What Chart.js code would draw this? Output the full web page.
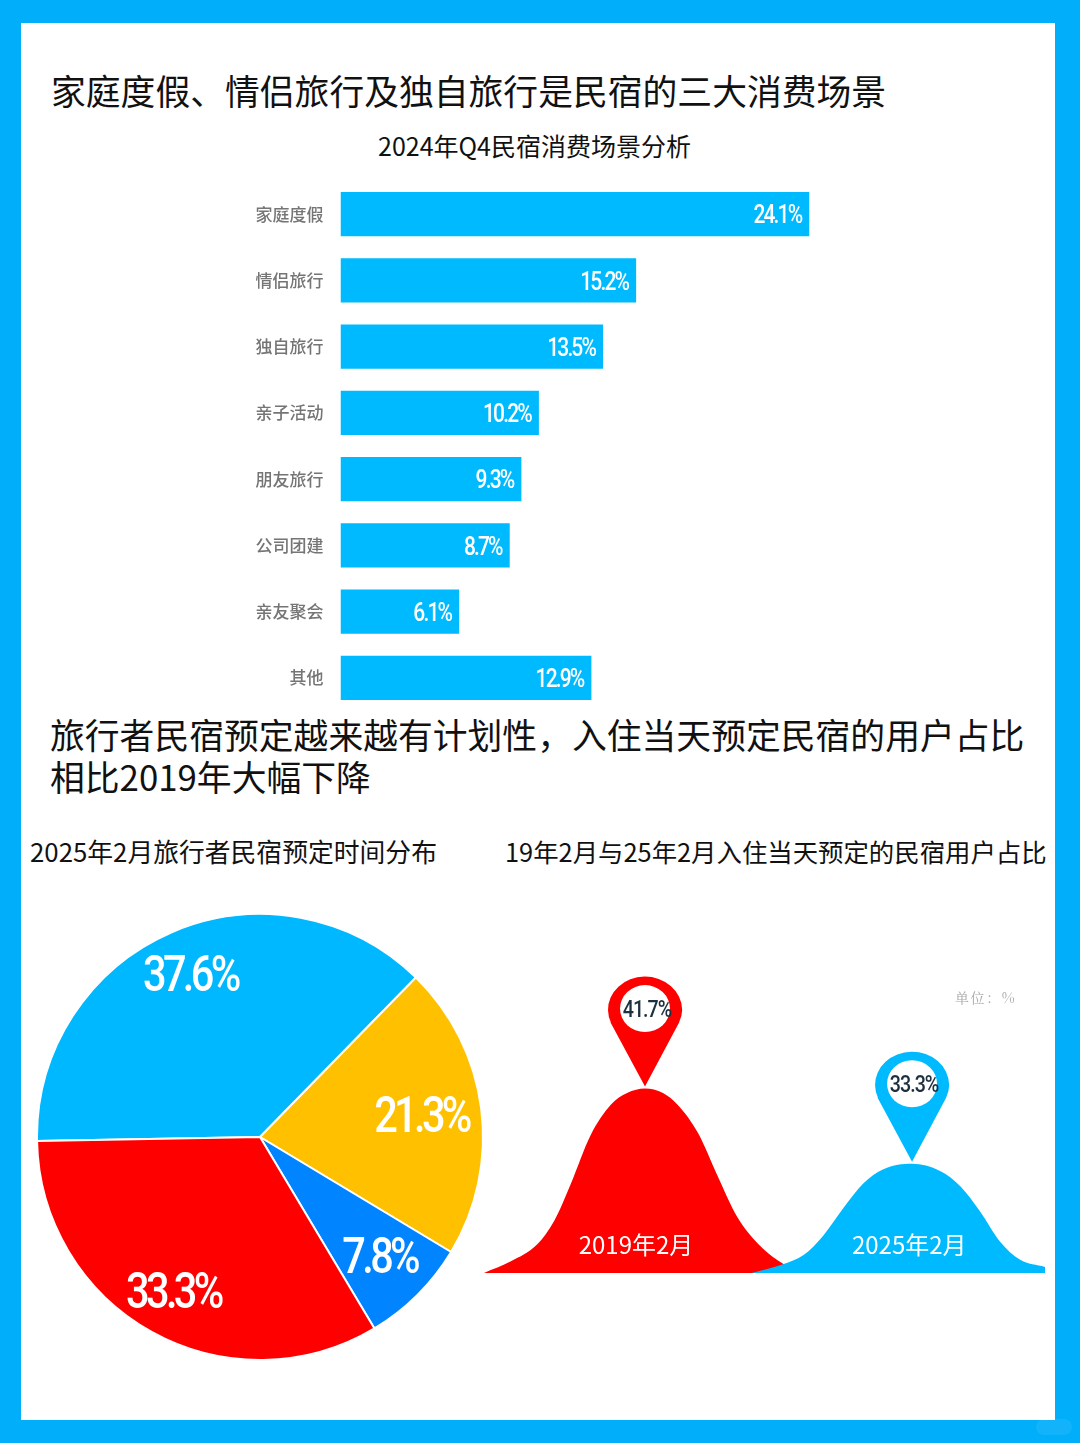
<!DOCTYPE html>
<html lang="zh-CN">
<head>
<meta charset="utf-8">
<title>民宿消费场景分析</title>
<script src="https://cdn.jsdelivr.net/npm/chart.js@4/dist/chart.umd.js"></script>
<style>
  html, body { margin: 0; padding: 0; background: #00aefa; }
  body { position: relative; width: 1080px; height: 1443px; overflow: hidden;
         font-family: "Noto Sans CJK SC", "Noto Sans", sans-serif; color: #111; }
  #panel { position: absolute; left: 21px; top: 23px; width: 1034px; height: 1397px; background: #fff; }
  .t { position: absolute; white-space: nowrap; }
  .h1 { font-size: 34.8px; line-height: 42px; height: 42px; font-weight: 400; }
  .h2 { font-size: 25.4px; line-height: 34px; height: 34px; font-weight: 400; }
  canvas { position: absolute; display: block; }
  #unit { left: 955px; top: 988px; font: 14px/18px "Noto Serif CJK SC", "DejaVu Serif", serif; color: #a8a8a8; letter-spacing: 1.6px; }
  #badge { position: absolute; left: 1036px; top: 1419px; width: 36px; height: 16px; border-radius: 8px; background: rgba(255,255,255,.07); }
</style>
</head>
<body>
<div id="panel"></div>
<div id="badge"></div>
<div class="t h1" style="left:51px;top:69px">家庭度假、情侣旅行及独自旅行是民宿的三大消费场景</div>
<div class="t h2" style="left:378px;top:128px;font-size:25px">2024年Q4民宿消费场景分析</div>
<div class="t h1" style="left:50px;top:713px">旅行者民宿预定越来越有计划性，入住当天预定民宿的用户占比</div>
<div class="t h1" style="left:50px;top:755px">相比2019年大幅下降</div>
<div class="t h2" style="left:30px;top:834px;font-size:25.8px">2025年2月旅行者民宿预定时间分布</div>
<div class="t h2" style="left:505px;top:834px">19年2月与25年2月入住当天预定的民宿用户占比</div>
<canvas id="barChart" width="684" height="530" style="left:240px;top:181px"></canvas>
<canvas id="pieChart" width="460" height="460" style="left:30px;top:907px"></canvas>
<canvas id="peakChart" width="561" height="313" style="left:484px;top:960px"></canvas>
<div class="t" id="unit">单位：%</div>

<script>
// Scenario shares, Q4 2024 (%)
const scenarioLabels = ['家庭度假', '情侣旅行', '独自旅行', '亲子活动', '朋友旅行', '公司团建', '亲友聚会', '其他'];
const scenarioValues = [24.1, 15.2, 13.5, 10.2, 9.3, 8.7, 6.1, 12.9];

// Booking lead-time shares, February 2025 (%)
const leadTimeValues = [37.6, 21.3, 7.8, 33.3];
const leadTimeColors = ['#00b8ff', '#ffc000', '#0084ff', '#ff0000'];

// Same-day booking share: each hump tops out at its stated value
const humpLabels = ['2019年2月', '2025年2月'];
const humpLabelX = [27.1, 75.8];
const humpPeaks = [41.7, 33.3];
const hump2019X = [0, 4.8, 9.5, 12.5, 15.5, 19, 22.6, 25.5, 28.7, 31.9, 34.5, 38.1, 41.6, 45.2, 48.8, 52.4, 56.6];
const hump2019Y = [21.1, 22.4, 24.3, 26.9, 31.1, 36.5, 39.9, 41.2, 41.7, 41.2, 39.9, 36.8, 32, 27.3, 24.4, 22.5, 21.1];
const hump2025X = [47.7, 53.3, 56.9, 60.5, 64, 67.6, 71.2, 76.3, 81.3, 84.9, 88.4, 92, 95.5, 100];
const hump2025Y = [21.1, 22.07, 23.07, 25.3, 28.3, 31.1, 32.7, 33.3, 32.5, 30.8, 28, 24.6, 22.6, 21.77];

Chart.defaults.animation = false;
Chart.defaults.responsive = false;
Chart.defaults.plugins.legend.display = false;
Chart.defaults.plugins.tooltip.enabled = false;

const pct = v => v.toFixed(1) + '%';

// Draws condensed figures: horizontally squeezed glyphs with tight tracking
function drawCondensed(ctx, text, x, y, squeeze, align) {
  ctx.save();
  ctx.translate(x, y);
  ctx.scale(squeeze, 1);
  ctx.textAlign = align;
  ctx.textBaseline = 'middle';
  ctx.fillText(text, 0, 0);
  ctx.restore();
}

// White value labels inside each bar, flush with its right end
const barLabels = {
  id: 'barLabels',
  afterDatasetsDraw(chart) {
    const { ctx } = chart;
    ctx.save();
    ctx.font = '500 25px Roboto';
    ctx.letterSpacing = '-2.2px';
    ctx.fillStyle = '#fff';
    chart.getDatasetMeta(0).data.forEach((bar, i) => {
      drawCondensed(ctx, pct(scenarioValues[i]), bar.x - 8, bar.y + 3, 0.84, 'right');
    });
    ctx.restore();
  }
};

new Chart(document.getElementById('barChart'), {
  type: 'bar',
  data: { labels: scenarioLabels, datasets: [{ data: scenarioValues, backgroundColor: '#00baff',
    categoryPercentage: 1, barPercentage: 0.665 }] },
  options: {
    indexAxis: 'y',
    layout: { padding: 0 },
    scales: {
      x: { display: false, min: 0, max: 30 },
      y: {
        afterFit(scale) { scale.width = 100.5; scale.paddingTop = 0; scale.paddingBottom = 0; },
        border: { display: false },
        grid: { display: false, drawTicks: false },
        ticks: { color: '#757575', padding: 17, font: { size: 17, family: '"Noto Sans CJK SC"', weight: '500' } }
      }
    }
  },
  plugins: [barLabels]
});

// Large percentage labels placed along each slice's mid-angle
const sliceReach = [0.79, 0.73, 0.76, 0.8];
const sliceLabels = {
  id: 'sliceLabels',
  afterDatasetsDraw(chart) {
    const { ctx } = chart;
    ctx.save();
    ctx.font = '500 50px Roboto';
    ctx.letterSpacing = '-4.4px';
    ctx.fillStyle = '#fff';
    chart.getDatasetMeta(0).data.forEach((arc, i) => {
      const mid = (arc.startAngle + arc.endAngle) / 2;
      const r = arc.outerRadius * sliceReach[i];
      drawCondensed(ctx, pct(leadTimeValues[i]), arc.x + Math.cos(mid) * r, arc.y + Math.sin(mid) * r + 3, 0.83, 'center');
    });
    ctx.restore();
  }
};

new Chart(document.getElementById('pieChart'), {
  type: 'pie',
  data: { datasets: [{ data: leadTimeValues, backgroundColor: leadTimeColors, borderColor: '#fff', borderWidth: 2 }] },
  options: { rotation: -91, radius: 223, layout: { padding: 0 } },
  plugins: [sliceLabels]
});

// Map-pin callout whose tip rests on each hump's peak, plus the period label
const peakPins = {
  id: 'peakPins',
  afterDatasetsDraw(chart) {
    const { ctx, scales: { x: xScale, y: yScale } } = chart;
    const pin = (top, colour, value, label, labelX) => {
      const tipX = top.x, tipY = top.y - 2;
      const cy = tipY - 77, rx = 37, ry = 33;
      ctx.fillStyle = colour;
      ctx.beginPath();
      ctx.moveTo(tipX, tipY);
      ctx.lineTo(tipX - rx + 2, cy + 12);
      ctx.ellipse(tipX, cy, rx, ry, 0, Math.PI * 0.87, Math.PI * 0.13 + Math.PI * 2);
      ctx.closePath();
      ctx.fill();
      ctx.fillStyle = '#fff';
      ctx.beginPath();
      ctx.ellipse(tipX, cy - 1, 25, 23.5, 0, 0, Math.PI * 2);
      ctx.fill();
      ctx.font = '500 24px Roboto';
      ctx.letterSpacing = '-1.2px';
      ctx.fillStyle = '#1e3040';
      drawCondensed(ctx, pct(value), tipX + 2, cy + 1, 0.82, 'center');
      ctx.letterSpacing = '0px';
      ctx.font = '24px "Noto Sans CJK SC"';
      ctx.fillStyle = '#fff';
      ctx.textAlign = 'center';
      ctx.textBaseline = 'middle';
      ctx.fillText(label, xScale.getPixelForValue(labelX), yScale.bottom - 28);
    };
    ctx.save();
    [[hump2019Y, '#ff0000'], [hump2025Y, '#00baff']].forEach(([ys, colour], i) => {
      const top = chart.getDatasetMeta(i).data[ys.indexOf(humpPeaks[i])];
      pin(top, colour, humpPeaks[i], humpLabels[i], humpLabelX[i]);
    });
    ctx.restore();
  }
};

const toPoints = (xs, ys) => xs.map((x, i) => ({ x, y: ys[i] }));

new Chart(document.getElementById('peakChart'), {
  type: 'line',
  data: { datasets: [
    { data: toPoints(hump2019X, hump2019Y), order: 2, backgroundColor: '#ff0000', fill: 'origin',
      borderWidth: 0, pointRadius: 0, cubicInterpolationMode: 'monotone' },
    { data: toPoints(hump2025X, hump2025Y), order: 1, backgroundColor: '#00baff', fill: 'origin',
      borderWidth: 0, pointRadius: 0, cubicInterpolationMode: 'monotone' }
  ] },
  options: {
    layout: { padding: 0 },
    scales: {
      x: { type: 'linear', display: false, min: 0, max: 100 },
      y: { display: false, min: 21.1, max: 56.07 }
    }
  },
  plugins: [peakPins]
});
</script>
</body>
</html>
